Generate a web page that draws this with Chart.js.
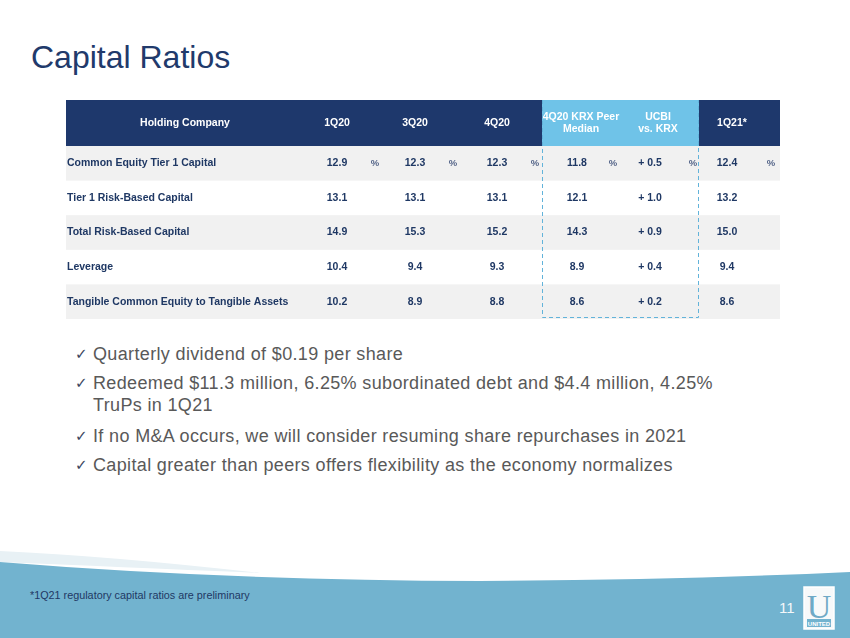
<!DOCTYPE html>
<html>
<head>
<meta charset="utf-8">
<script src="https://cdn.jsdelivr.net/npm/chart.js@4.4.0/dist/chart.umd.min.js"></script>
<style>
  body { margin: 0; width: 850px; height: 638px; overflow: hidden; background: #fff; position: relative;
         font-family: "Liberation Sans", Arial, sans-serif; }
  h1 { position: absolute; left: 31px; top: 41px; margin: 0; font-weight: normal; font-size: 32px;
       line-height: 32px; color: #213a6b; }
  #tableWrap { position: absolute; left: 66px; top: 100px; width: 714px; height: 220px; }
  #bullets { position: absolute; left: 75px; top: 343px; color: #595959; font-size: 18px; line-height: 22px;
             letter-spacing: 0.35px; white-space: nowrap; }
  #bullets div { position: relative; padding-left: 18px; margin-bottom: 7px; }
  #bullets div span { position: absolute; left: 0; top: 0; font-family: "DejaVu Sans"; font-size: 15px; color: #3b4660; letter-spacing: 0; }
  #footer { position: absolute; left: 0; top: 540px; }
  #note { position: absolute; left: 30px; top: 589px; font-size: 10.8px; color: #1f3864; }
  #page { position: absolute; left: 779px; top: 599px; font-family: "Liberation Sans Narrow", "Liberation Sans", Arial; font-size: 15px; color: #f4f8fa; }
</style>
</head>
<body>
<h1>Capital Ratios</h1>

<div id="tableWrap"><canvas id="ratioTable"></canvas></div>

<div id="bullets">
  <div><span>✓</span>Quarterly dividend of $0.19 per share</div>
  <div><span>✓</span>Redeemed $11.3 million, 6.25% subordinated debt and $4.4 million, 4.25%<br>TruPs in 1Q21</div>
  <div style="margin-top:9px"><span>✓</span>If no M&amp;A occurs, we will consider resuming share repurchases in 2021</div>
  <div><span>✓</span>Capital greater than peers offers flexibility as the economy normalizes</div>
</div>

<svg id="footer" width="850" height="98" viewBox="0 540 850 98">
  <path d="M0,551 Q110,556 260,573 Q120,567 0,562 Z" fill="#e8f1f5"/>
  <path d="M0,562 Q220,580 480,581 Q680,580 850,572 L850,638 L0,638 Z" fill="#72b3cf"/>
  <rect x="804" y="587" width="30" height="42" fill="#f7f9fa" stroke="#ffffff" stroke-width="1.5"/>
  <text x="819" y="618" text-anchor="middle" font-family="Liberation Serif" font-size="34" fill="#6fa9c6">U</text>
  <rect x="807" y="619" width="24" height="8" fill="#72b3cf"/>
  <text x="819" y="625.5" text-anchor="middle" font-family="Liberation Sans" font-weight="bold" font-size="6" fill="#ffffff">UNITED</text>
</svg>
<div id="note">*1Q21 regulatory capital ratios are preliminary</div>
<div id="page">11</div>

<script>
const rowLabels = [
  'Common Equity Tier 1 Capital',
  'Tier 1 Risk-Based Capital',
  'Total Risk-Based Capital',
  'Leverage',
  'Tangible Common Equity to Tangible Assets'
];
const headerLabels = ['Holding Company', '1Q20', '3Q20', '4Q20', ['4Q20 KRX Peer', 'Median'], ['UCBI', 'vs. KRX'], '1Q21*'];

const q1_20 = [12.9, 13.1, 14.9, 10.4, 10.2];
const q3_20 = [12.3, 13.1, 15.3, 9.4, 8.9];
const q4_20 = [12.3, 13.1, 15.2, 9.3, 8.8];
const peerMedian = [11.8, 12.1, 14.3, 8.9, 8.6];
const ucbiVsKrx = [0.5, 1.0, 0.9, 0.4, 0.2];
const q1_21 = [12.4, 13.2, 15.0, 9.4, 8.6];

// layout: column centres in table pixels (x scale units), kept apart from the data
const headerX = [119, 271, 349, 431, 515, 592, 666];
const valueX = [271, 349, 431, 511, 584, 661];
const pctX = [309, 387, 469, 547, 627, 705];
const peerBand = [476, 633];
const headerH = 46;

const navy = '#1f3864';

const tablePlugin = {
  id: 'tablePlugin',
  beforeDatasetsDraw(chart) {
    const { ctx, chartArea, scales } = chart;
    const x = scales.x, y = scales.y;
    const rowH = (chartArea.bottom - chartArea.top) / rowLabels.length;
    ctx.save();

    // header band
    ctx.fillStyle = '#1e386c';
    ctx.fillRect(chartArea.left, chartArea.top - headerH, chartArea.right - chartArea.left, headerH);
    ctx.fillStyle = '#6fc3e8';
    ctx.fillRect(x.getPixelForValue(peerBand[0]), chartArea.top - headerH,
      x.getPixelForValue(peerBand[1]) - x.getPixelForValue(peerBand[0]), headerH);

    // row stripes
    rowLabels.forEach((r, i) => {
      if (i % 2 === 0) {
        ctx.fillStyle = '#f1f1f1';
        ctx.fillRect(chartArea.left, y.getPixelForValue(i) - rowH / 2, chartArea.right - chartArea.left, rowH);
      }
    });

    // header text
    ctx.fillStyle = '#ffffff';
    ctx.font = 'bold 10.5px "Liberation Sans", Arial';
    ctx.textAlign = 'center';
    ctx.textBaseline = 'middle';
    const hMid = chartArea.top - headerH / 2;
    headerLabels.forEach((h, i) => {
      const cx = x.getPixelForValue(headerX[i]);
      if (Array.isArray(h)) {
        ctx.fillText(h[0], cx, hMid - 6);
        ctx.fillText(h[1], cx, hMid + 6);
      } else {
        ctx.fillText(h, cx, hMid);
      }
    });

    // body text
    const cols = [q1_20, q3_20, q4_20, peerMedian, ucbiVsKrx, q1_21];
    rowLabels.forEach((r, i) => {
      const cy = y.getPixelForValue(i);
      ctx.fillStyle = navy;
      ctx.font = 'bold 10.5px "Liberation Sans", Arial';
      ctx.textAlign = 'left';
      ctx.fillText(r, chartArea.left + 1, cy);
      ctx.textAlign = 'center';
      cols.forEach((col, c) => {
        const txt = col === ucbiVsKrx ? '+ ' + col[i].toFixed(1) : col[i].toFixed(1);
        ctx.fillText(txt, x.getPixelForValue(valueX[c]), cy);
      });
      if (i === 0) {
        ctx.fillStyle = '#56668a';
        ctx.font = 'bold 9.5px "Liberation Sans", Arial';
        pctX.forEach(px => ctx.fillText('%', x.getPixelForValue(px), cy));
      }
    });

    // dashed peer box
    ctx.strokeStyle = '#62b3da';
    ctx.lineWidth = 1;
    ctx.setLineDash([4, 3]);
    const bx0 = x.getPixelForValue(peerBand[0]) + 0.5;
    const bx1 = x.getPixelForValue(peerBand[1]) - 0.5;
    ctx.beginPath();
    ctx.moveTo(bx0, chartArea.top - headerH);
    ctx.lineTo(bx0, chartArea.bottom - 1.5);
    ctx.lineTo(bx1, chartArea.bottom - 1.5);
    ctx.lineTo(bx1, chartArea.top - headerH);
    ctx.stroke();
    ctx.restore();
  }
};

new Chart(document.getElementById('ratioTable'), {
  type: 'bar',
  data: {
    labels: rowLabels,
    datasets: []
  },
  options: {
    responsive: true,
    maintainAspectRatio: false,
    animation: false,
    indexAxis: 'y',
    layout: { padding: { top: headerH, left: 0, right: 0, bottom: 1 } },
    plugins: { legend: { display: false }, tooltip: { enabled: false } },
    scales: {
      x: { type: 'linear', min: 0, max: 714, display: false },
      y: { type: 'category', offset: true, display: false }
    }
  },
  plugins: [tablePlugin]
});
</script>
</body>
</html>
